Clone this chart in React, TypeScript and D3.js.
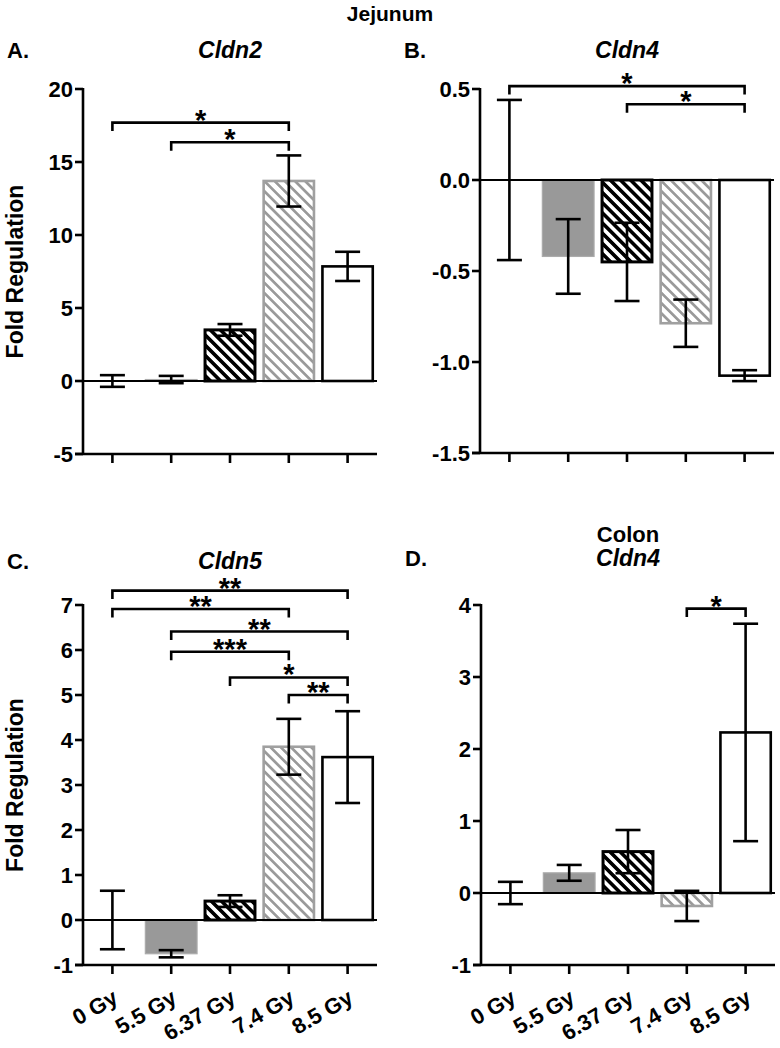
import React from "react";
import * as d3 from "d3";

// ---------- data ----------
const categories = ["0 Gy", "5.5 Gy", "6.37 Gy", "7.4 Gy", "8.5 Gy"];

const cldn2JejunumMean = [0, 0.1, 3.5, 13.7, 7.85];
const cldn2JejunumErr = [0.4, 0.25, 0.4, 1.75, 1.0];

const cldn4JejunumMean = [0, -0.42, -0.45, -0.787, -1.075];
const cldn4JejunumErr = [0.44, 0.205, 0.215, 0.13, 0.03];

const cldn5JejunumMean = [0, -0.75, 0.42, 3.85, 3.62];
const cldn5JejunumErr = [0.65, 0.08, 0.13, 0.62, 1.02];

const cldn4ColonMean = [0, 0.28, 0.575, -0.18, 2.23];
const cldn4ColonErr = [0.155, 0.11, 0.3, 0.21, 1.51];

// significance brackets: [from index, to index, level (data units), label]
const cldn2Sig = [
  [0, 3, 17.7, "*"],
  [1, 3, 16.35, "*"],
];
const cldn4JSig = [
  [0, 4, 0.516, "*"],
  [2, 4, 0.416, "*"],
];
const cldn5Sig = [
  [0, 4, 7.32, "**"],
  [0, 3, 6.91, "**"],
  [1, 4, 6.41, "**"],
  [1, 3, 5.96, "***"],
  [2, 4, 5.39, "*"],
  [3, 4, 5.0, "**"],
];
const cldn4CSig = [[3, 4, 3.95, "*"]];

const ticksA = [-5, 0, 5, 10, 15, 20];
const tickLabelsA = ["-5", "0", "5", "10", "15", "20"];
const ticksB = [-1.5, -1.0, -0.5, 0, 0.5];
const tickLabelsB = ["-1.5", "-1.0", "-0.5", "0.0", "0.5"];
const ticksC = [-1, 0, 1, 2, 3, 4, 5, 6, 7];
const tickLabelsC = ["-1", "0", "1", "2", "3", "4", "5", "6", "7"];
const ticksD = [-1, 0, 1, 2, 3, 4];
const tickLabelsD = ["-1", "0", "1", "2", "3", "4"];

// ---------- layout ----------
const FONT = "'Liberation Sans', Arial, Helvetica, sans-serif";
const PLOT_W = 294;

const barStyles = [
  { fill: "#ffffff", stroke: "#000000", sw: 2.6 },
  { fill: "#999999", stroke: "#ababab", sw: 1.2 },
  { fill: "url(#hatchBlack)", stroke: "#000000", sw: 3 },
  { fill: "url(#hatchGray)", stroke: "#a0a0a0", sw: 2.6 },
  { fill: "#ffffff", stroke: "#000000", sw: 2.6 },
];

const panels = [
  {
    letter: "A.", title: "Cldn2", super: null,
    mean: cldn2JejunumMean, err: cldn2JejunumErr, sig: cldn2Sig,
    ticks: ticksA, tickLabels: tickLabelsA, domain: [-5, 20],
    left: 83, top: 89, bottom: 454, titleY: 58, superY: 0,
    yLabel: true, xLabels: false,
  },
  {
    letter: "B.", title: "Cldn4", super: null,
    mean: cldn4JejunumMean, err: cldn4JejunumErr, sig: cldn4JSig,
    ticks: ticksB, tickLabels: tickLabelsB, domain: [-1.5, 0.5],
    left: 480, top: 89, bottom: 453, titleY: 58, superY: 0,
    yLabel: false, xLabels: false,
  },
  {
    letter: "C.", title: "Cldn5", super: null,
    mean: cldn5JejunumMean, err: cldn5JejunumErr, sig: cldn5Sig,
    ticks: ticksC, tickLabels: tickLabelsC, domain: [-1, 7],
    left: 83, top: 605, bottom: 965, titleY: 569, superY: 0,
    yLabel: true, xLabels: true,
  },
  {
    letter: "D.", title: "Cldn4", super: "Colon",
    mean: cldn4ColonMean, err: cldn4ColonErr, sig: cldn4CSig,
    ticks: ticksD, tickLabels: tickLabelsD, domain: [-1, 4],
    left: 481, top: 605, bottom: 965, titleY: 566, superY: 542,
    yLabel: false, xLabels: true,
  },
];

function Panel({ p }: { p: any }) {
  const x = d3
    .scaleBand()
    .domain(categories)
    .range([p.left, p.left + PLOT_W])
    .paddingInner(0.1)
    .paddingOuter(0.05);
  const y = d3.scaleLinear().domain(p.domain).range([p.bottom, p.top]);
  const bw = x.bandwidth();
  const cx = (c: string) => (x(c) as number) + bw / 2;
  const y0 = y(0);
  const capHalf = 12.5;
  const tip = 8.5;
  const letterX = p.left - 76;
  const midX = p.left + PLOT_W / 2;

  return (
    <g>
      {/* titles */}
      <text x={letterX} y={p.titleY} fontFamily={FONT} fontWeight="bold" fontSize={22}>
        {p.letter}
      </text>
      {p.super && (
        <text x={midX} y={p.superY} textAnchor="middle" fontFamily={FONT} fontWeight="bold" fontSize={22}>
          {p.super}
        </text>
      )}
      <text x={midX} y={p.titleY} textAnchor="middle" fontFamily={FONT} fontWeight="bold" fontStyle="italic" fontSize={23}>
        {p.title}
      </text>

      {/* zero line */}
      <line x1={p.left} x2={p.left + PLOT_W} y1={y0} y2={y0} stroke="#000" strokeWidth={2.2} />

      {/* bars */}
      {categories.map((c, i) => {
        const v = p.mean[i];
        const s = barStyles[i];
        const yt = Math.min(y(v), y0);
        const h = Math.abs(y(v) - y0);
        if (h < 0.5) {
          return null;
        }
        return (
          <rect
            key={"b" + i}
            x={(x(c) as number) + s.sw / 2}
            y={yt}
            width={bw - s.sw}
            height={h}
            fill={s.fill}
            stroke={s.stroke}
            strokeWidth={s.sw}
          />
        );
      })}
      <line x1={p.left} x2={p.left + PLOT_W} y1={y0} y2={y0} stroke="#000" strokeWidth={2.2} />

      {/* error bars */}
      {categories.map((c, i) => {
        const m = p.mean[i];
        const e = p.err[i];
        const xc = cx(c);
        const yTop = y(m + e);
        const yBot = y(m - e);
        return (
          <g key={"e" + i} stroke="#000" strokeWidth={2.6}>
            <line x1={xc} x2={xc} y1={yTop} y2={yBot} />
            <line x1={xc - capHalf} x2={xc + capHalf} y1={yTop} y2={yTop} />
            <line x1={xc - capHalf} x2={xc + capHalf} y1={yBot} y2={yBot} />
          </g>
        );
      })}

      {/* y axis */}
      <line x1={p.left} x2={p.left} y1={p.top - 1} y2={p.bottom + 1} stroke="#000" strokeWidth={2.6} />
      {p.ticks.map((t: number, i: number) => (
        <g key={"yt" + i}>
          <line x1={p.left - 8} x2={p.left} y1={y(t)} y2={y(t)} stroke="#000" strokeWidth={2.6} />
          <text
            x={p.left - 10}
            y={y(t)}
            dy="0.36em"
            textAnchor="end"
            fontFamily={FONT}
            fontWeight="bold"
            fontSize={22}
          >
            {p.tickLabels[i]}
          </text>
        </g>
      ))}

      {/* x axis */}
      <line x1={p.left - 8} x2={p.left + PLOT_W} y1={p.bottom} y2={p.bottom} stroke="#000" strokeWidth={2.6} />
      {categories.map((c, i) => (
        <g key={"xt" + i}>
          <line x1={cx(c)} x2={cx(c)} y1={p.bottom} y2={p.bottom + 9} stroke="#000" strokeWidth={2.6} />
          {p.xLabels && (
            <text
              transform={`translate(${cx(c) + 7},${p.bottom + 37}) rotate(-30)`}
              textAnchor="end"
              fontFamily={FONT}
              fontWeight="bold"
              fontSize={22}
            >
              {c}
            </text>
          )}
        </g>
      ))}

      {/* y label */}
      {p.yLabel && (
        <text
          transform={`translate(23,${(p.top + p.bottom) / 2}) rotate(-90)`}
          textAnchor="middle"
          fontFamily={FONT}
          fontWeight="bold"
          fontSize={23}
        >
          Fold Regulation
        </text>
      )}

      {/* significance brackets */}
      {p.sig.map((s: any, i: number) => {
        const x1 = cx(categories[s[0]]);
        const x2 = cx(categories[s[1]]);
        const yy = y(s[2]);
        return (
          <g key={"s" + i}>
            <path
              d={`M${x1},${yy + tip}L${x1},${yy}L${x2},${yy}L${x2},${yy + tip}`}
              fill="none"
              stroke="#000"
              strokeWidth={2.6}
            />
            <text
              x={(x1 + x2) / 2}
              y={yy + 7}
              textAnchor="middle"
              fontFamily={FONT}
              fontWeight="bold"
              fontSize={29}
            >
              {s[3]}
            </text>
          </g>
        );
      })}
    </g>
  );
}

export default function App() {
  return (
    <svg
      width={780}
      height={1048}
      viewBox="0 0 780 1048"
      style={{ position: "absolute", left: 0, top: 0, background: "#fff" }}
    >
      <defs>
        <pattern id="hatchBlack" patternUnits="userSpaceOnUse" width={7.2} height={7.2} patternTransform="rotate(-45)">
          <rect width={7.2} height={7.2} fill="#fff" />
          <rect x={0} y={0} width={3.6} height={7.2} fill="#000" />
        </pattern>
        <pattern id="hatchGray" patternUnits="userSpaceOnUse" width={7.2} height={7.2} patternTransform="rotate(-45)">
          <rect width={7.2} height={7.2} fill="#fff" />
          <rect x={0} y={0} width={2.7} height={7.2} fill="#9a9a9a" />
        </pattern>
      </defs>
      <rect width={780} height={1048} fill="#fff" />
      <text x={390} y={21} textAnchor="middle" fontFamily={FONT} fontWeight="bold" fontSize={21}>
        Jejunum
      </text>
      {panels.map((p, i) => (
        <Panel key={i} p={p} />
      ))}
    </svg>
  );
}
